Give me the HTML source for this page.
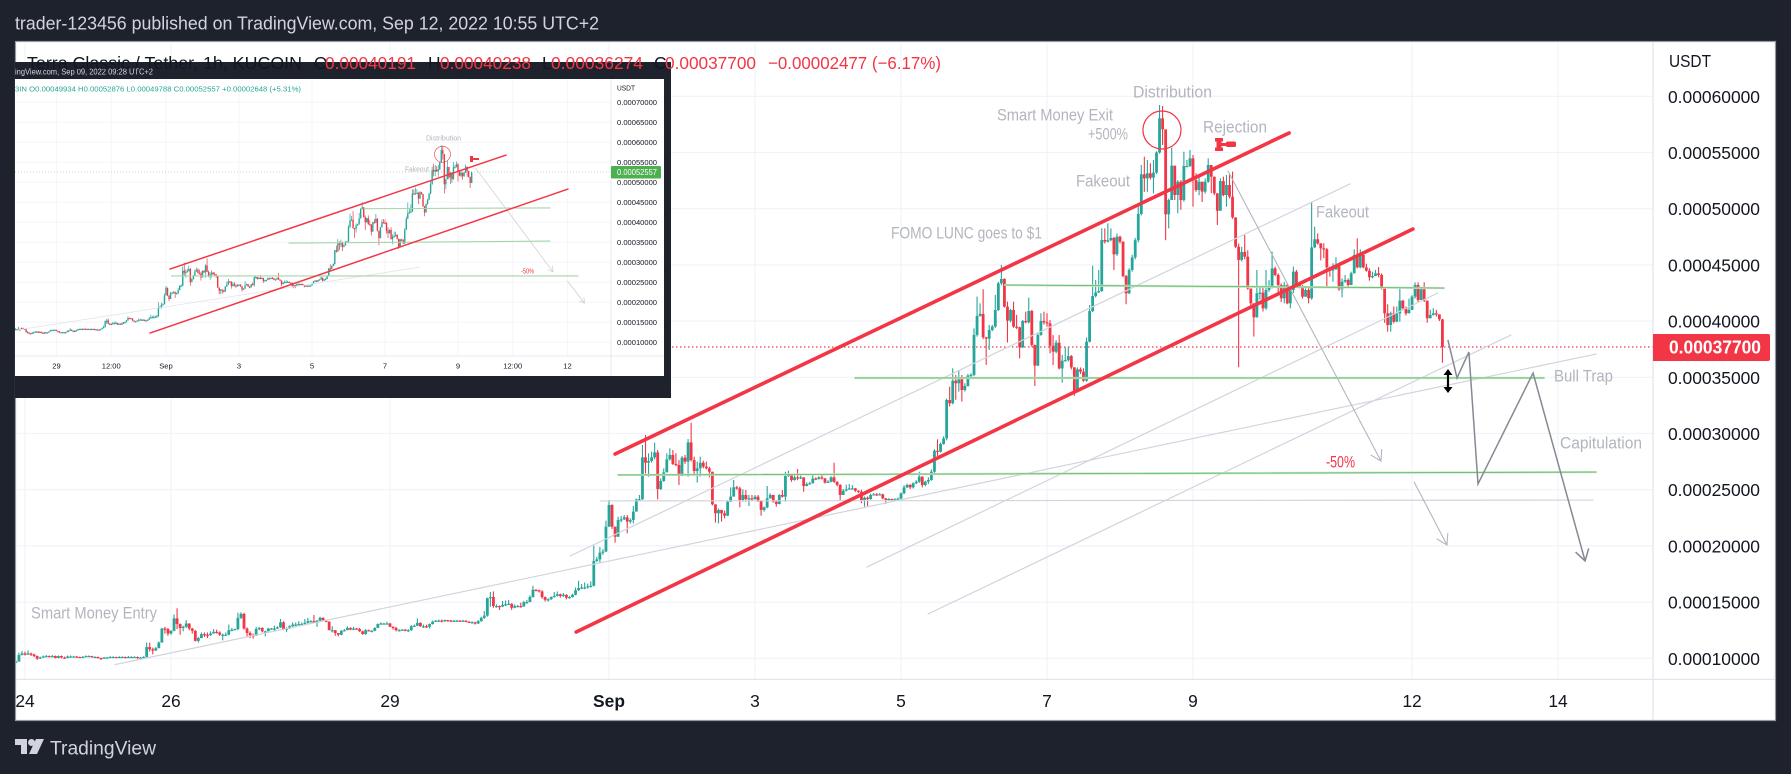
<!DOCTYPE html>
<html lang="en">
<head>
<meta charset="utf-8">
<title>LUNC / USDT chart</title>
<style>
html,body{margin:0;padding:0;background:#1e222d;width:1791px;height:774px;overflow:hidden}
svg{display:block;font-family:"Liberation Sans",sans-serif}
text{dominant-baseline:central}
.anno{fill:#b2b5be;font-size:17px}
.ax{fill:#131722;font-size:17.4px}
.lg{fill:#f23645;font-size:17.4px}
.ia{fill:#131722;font-size:7.6px}
.il{fill:#26a69a;font-size:7.6px}
</style>
</head>
<body>
<svg id="chart" xmlns="http://www.w3.org/2000/svg" width="1791" height="774" viewBox="0 0 1791 774">
  <defs>
    <clipPath id="mainClip"><rect x="16" y="42" width="1637" height="637"/></clipPath>
    <clipPath id="insetClip"><rect x="15" y="79" width="596" height="277"/></clipPath>
  </defs>
  <rect width="1791" height="774" fill="#1e222d"/>
  <text x="15" y="23" font-size="18.5" fill="#d1d4dc" textLength="584" lengthAdjust="spacingAndGlyphs">trader-123456 published on TradingView.com, Sep 12, 2022 10:55 UTC+2</text>
  <rect x="15.5" y="41.5" width="1760" height="679" fill="#ffffff" stroke="#9598a1" stroke-width="1.2"/>

  <g id="mainGrid"></g>
  <g id="mainPlot" clip-path="url(#mainClip)">
    <line x1="16" x2="1653" y1="347" y2="347" stroke="#f23645" stroke-width="1.2" stroke-dasharray="1.5 2.5"/>
    <g id="mainCandles"></g>
    <g id="mainDrawings"></g>
    <g fill="#f23645">
      <rect x="1215" y="138" width="8" height="3.5"/><rect x="1216.5" y="140" width="5" height="10"/><rect x="1215" y="147.5" width="8" height="3.5"/>
      <rect x="1221" y="143" width="6" height="3"/><rect x="1226" y="141.5" width="10" height="5.5" rx="1.5"/>
    </g>
    <g stroke="#000" stroke-width="2.2" fill="#000">
      <line x1="1448" x2="1448" y1="372" y2="390"/>
      <polygon points="1448,369 1443.5,375 1452.5,375" stroke="none"/>
      <polygon points="1448,393 1443.5,387 1452.5,387" stroke="none"/>
    </g>
  </g>

  <text class="anno" x="1133" y="92" textLength="79" lengthAdjust="spacingAndGlyphs">Distribution</text>
  <text class="anno" x="997" y="115" textLength="116" lengthAdjust="spacingAndGlyphs">Smart Money Exit</text>
  <text class="anno" x="1088" y="134" textLength="40" lengthAdjust="spacingAndGlyphs">+500%</text>
  <text class="anno" x="1203" y="127" textLength="64" lengthAdjust="spacingAndGlyphs">Rejection</text>
  <text class="anno" x="1076" y="181" textLength="54" lengthAdjust="spacingAndGlyphs">Fakeout</text>
  <text class="anno" x="1316" y="212" textLength="53" lengthAdjust="spacingAndGlyphs">Fakeout</text>
  <text class="anno" x="891" y="233" textLength="151" lengthAdjust="spacingAndGlyphs">FOMO LUNC goes to $1</text>
  <text class="anno" x="1554" y="376" textLength="59" lengthAdjust="spacingAndGlyphs">Bull Trap</text>
  <text class="anno" x="1560" y="443" textLength="82" lengthAdjust="spacingAndGlyphs">Capitulation</text>
  <text class="anno" x="1326" y="462" textLength="29" lengthAdjust="spacingAndGlyphs" style="fill:#f23645">-50%</text>
  <text class="anno" x="31" y="613" textLength="126" lengthAdjust="spacingAndGlyphs">Smart Money Entry</text>

  <g id="mainAxes"></g>
  <text class="ax" x="1669" y="61" textLength="42" lengthAdjust="spacingAndGlyphs">USDT</text>
  <path d="M1653 334H1768a2 2 0 0 1 2 2V359a2 2 0 0 1-2 2H1653Z" fill="#f23645"/>
  <text x="1669" y="347.5" font-size="18" font-weight="bold" fill="#ffffff" textLength="92" lengthAdjust="spacingAndGlyphs">0.00037700</text>

  <g id="inset">
    <rect x="15" y="62" width="656" height="336" fill="#1e222d"/>
    <rect x="15" y="79" width="649" height="297" fill="#ffffff"/>
    <text x="15" y="72" font-size="8" fill="#d1d4dc" textLength="138" lengthAdjust="spacingAndGlyphs">ingView.com, Sep 09, 2022 09:28 UTC+2</text>
    <g id="insetGrid"></g>
    <g clip-path="url(#insetClip)">
      <line x1="15" x2="611" y1="172" y2="172" stroke="#a5d6a7" stroke-width="0.8" stroke-dasharray="1 2"/>
      <g id="insetCandles"></g>
      <g id="insetDrawings"></g>
      <rect x="470" y="156" width="3" height="6" fill="#f23645"/>
      <rect x="473" y="158" width="6" height="2" fill="#f23645"/>
    </g>
    <text x="426" y="138" font-size="7.5" fill="#b2b5be" textLength="35" lengthAdjust="spacingAndGlyphs">Distribution</text>
    <text x="405" y="169" font-size="7.5" fill="#b2b5be" textLength="24" lengthAdjust="spacingAndGlyphs">Fakeout</text>
    <text x="521" y="272" font-size="7" fill="#f23645" textLength="13" lengthAdjust="spacingAndGlyphs">-50%</text>
    <text class="il" x="15" y="89" textLength="286" lengthAdjust="spacingAndGlyphs">3IN  O0.00049934  H0.00052876  L0.00049788  C0.00052557  +0.00002648 (+5.31%)</text>
    <g id="insetAxes"></g>
    <text class="ia" x="617" y="88" textLength="18" lengthAdjust="spacingAndGlyphs">USDT</text>
    <rect x="611" y="166" width="50" height="12.5" rx="1" fill="#4caf50"/>
    <text x="617" y="172.5" font-size="8" fill="#ffffff" textLength="40" lengthAdjust="spacingAndGlyphs">0.00052557</text>
  </g>

  <g>
    <text x="27" y="63" font-size="17.4" fill="#131722" textLength="275" lengthAdjust="spacingAndGlyphs">Terra Classic / Tether, 1h, KUCOIN</text>
    <text x="314" y="63" font-size="17.4" fill="#131722">O</text>
    <text class="lg" x="325" y="63" textLength="91" lengthAdjust="spacingAndGlyphs">0.00040191</text>
    <text x="428" y="63" font-size="17.4" fill="#131722">H</text>
    <text class="lg" x="440" y="63" textLength="91" lengthAdjust="spacingAndGlyphs">0.00040238</text>
    <text x="542" y="63" font-size="17.4" fill="#131722">L</text>
    <text class="lg" x="551" y="63" textLength="92" lengthAdjust="spacingAndGlyphs">0.00036274</text>
    <text x="654" y="63" font-size="17.4" fill="#131722">C</text>
    <text class="lg" x="665" y="63" textLength="91" lengthAdjust="spacingAndGlyphs">0.00037700</text>
    <text class="lg" x="768" y="63" textLength="173" lengthAdjust="spacingAndGlyphs">−0.00002477 (−6.17%)</text>
  </g>

  <g>
    <path d="M15 739H27V754H21V745H15Z" fill="#d1d4dc"/>
    <circle cx="31.5" cy="742.5" r="3.5" fill="#d1d4dc"/>
    <path d="M36 739H44L37 754H29Z" fill="#d1d4dc"/>
    <text x="50" y="749" font-size="19" fill="#d1d4dc" textLength="106" lengthAdjust="spacingAndGlyphs">TradingView</text>
  </g>
</svg>

<script>
// Hourly candles from Aug 24 onward; prices are in units of 0.00001 USDT. Open = previous close.
const firstOpen = 9.7;
const closes = [
9.7,10.3,10.43,10.38,10.43,10.34,10.2,9.98,10.07,10.16,
10.2,10.16,10.2,10.03,10.2,10.07,10.03,10.16,10.16,10.16,
10.12,10.07,10.12,10.2,10.2,10.12,10.12,10.03,9.98,10.07,
10.07,10.12,10.12,10.07,10.12,10.12,10.07,10.12,10.12,10.12,
10.03,10.07,10.12,11.0,10.8,10.7,10.9,11.4,12.65,12.6,
12.2,12.45,13.55,13.05,12.7,12.8,13.1,12.65,12.45,11.55,
11.8,12.15,12.1,12.05,12.2,12.35,12.3,12.1,12.1,12.1,
12.5,12.55,12.6,13.6,13.95,12.65,12.25,12.05,12.0,12.6,
12.7,12.4,12.4,12.65,12.65,12.65,12.75,13.2,12.6,12.65,
12.85,13.0,13.0,13.05,13.05,13.15,13.3,13.3,13.15,13.35,
13.6,13.4,13.25,12.5,12.5,12.25,12.1,12.45,12.5,12.7,
12.55,12.65,12.6,12.4,12.15,12.5,12.45,12.45,12.7,13.05,
13.1,13.1,13.1,12.8,12.7,12.5,12.5,12.55,12.5,12.5,
12.85,12.9,13.15,12.85,12.85,12.8,13.05,13.25,13.35,13.35,
13.3,13.4,13.35,13.3,13.35,13.35,13.3,13.35,13.25,13.2,
13.2,13.1,13.3,13.6,13.8,15.35,15.45,14.65,14.65,14.6,
14.75,14.8,14.85,14.5,14.65,14.65,14.6,15.0,15.0,15.45,
16.1,16.05,15.95,15.45,15.2,15.25,15.45,15.55,15.7,15.55,
15.65,15.4,15.45,15.65,16.05,16.25,16.3,16.3,16.4,16.45,
18.66,18.8,19.4,19.5,21.71,23.64,21.71,20.82,22.3,22.36,
22.54,22.16,22.3,23.05,24.14,24.14,27.88,27.4,27.55,27.88,
28.32,25.06,25.77,26.54,27.7,28.09,27.29,27.2,26.22,27.85,
27.5,29.21,27.64,26.66,26.9,27.4,27.05,26.9,26.6,23.7,
22.9,23.2,22.9,22.69,23.93,24.38,25.21,25.12,24.08,24.53,
24.17,24.23,24.17,24.38,23.99,23.2,23.43,24.23,24.53,23.93,
23.73,24.53,24.38,26.22,26.31,25.86,26.1,26.0,26.1,25.33,
25.5,25.57,26.0,25.95,26.1,26.0,25.63,25.71,26.1,25.71,
25.42,24.53,24.91,25.03,25.12,25.12,24.91,24.82,24.08,24.29,
24.17,24.53,24.59,24.56,24.59,24.23,24.08,24.17,24.08,24.14,
24.2,24.68,25.21,25.42,25.21,25.57,25.71,26.16,25.42,25.71,
25.86,26.6,28.47,28.38,29.07,29.57,32.98,32.69,34.7,34.47,
34.82,33.87,34.23,35.15,35.21,38.77,40.46,40.64,38.56,38.44,
39.21,39.51,40.99,43.36,43.75,41.29,40.04,40.99,39.51,39.45,
37.67,40.01,39.89,40.9,37.88,36.04,38.77,40.01,39.89,39.8,
37.81,37.28,38.08,35.79,36.47,36.53,36.89,35.88,33.78,35.7,
35.5,34.7,38.17,40.89,42.23,42.55,42.67,47.21,47.07,47.2,
47.4,45.94,47.51,47.07,44.01,42.47,44.55,45.67,47.2,49.53,
53.06,52.7,53.15,52.76,53.21,55.0,58.04,57.06,49.5,50.77,
53.83,51.22,52.4,50.77,53.8,53.8,54.48,52.55,51.66,52.4,
51.52,52.4,53.89,52.85,51.37,49.82,52.46,51.22,52.11,51.07,
49.23,46.62,45.44,46.15,45.73,42.9,41.58,40.34,42.47,42.53,
41.14,42.77,43.0,44.69,44.1,43.21,42.03,43.21,41.58,42.77,
44.4,43.21,43.06,42.17,42.77,42.03,46.56,47.28,46.92,46.48,
46.39,44.78,44.49,44.61,45.0,42.83,43.51,43.66,43.21,44.25,
45.88,44.78,45.88,44.78,44.49,43.9,44.01,44.25,44.1,42.92,
40.69,39.65,40.69,39.95,40.69,41.82,41.14,40.69,41.0,42.18,
43.21,41.88,42.83,41.82,40.25,40.54,40.69,40.6,40.16,37.7
];
const highs = [
9.8,10.5,10.65,10.6,10.7,10.5,10.4,10.25,10.15,10.25,
10.3,10.25,10.3,10.25,10.25,10.25,10.15,10.25,10.25,10.22,
10.2,10.15,10.2,10.26,10.26,10.22,10.18,10.15,10.05,10.12,
10.12,10.18,10.18,10.13,10.18,10.18,10.15,10.2,10.18,10.18,
10.15,10.12,10.18,11.4,11.4,10.95,11.0,11.5,12.7,12.8,
12.7,12.5,13.9,14.45,13.1,12.9,13.4,13.1,12.7,12.5,
11.9,12.3,12.3,12.3,12.4,12.6,12.55,12.4,12.2,12.3,
13.0,12.7,12.65,14.05,14.1,14.05,12.75,12.4,12.2,12.8,
12.8,12.75,12.45,12.7,12.7,12.9,12.85,13.5,13.3,12.75,
12.95,13.2,13.2,13.3,13.2,13.5,13.6,13.4,13.85,13.4,
13.7,13.65,13.45,13.3,12.85,12.5,12.2,12.5,12.6,12.85,
12.75,12.8,12.7,12.7,12.45,12.6,12.55,12.5,12.75,13.1,
13.2,13.15,13.25,13.15,12.85,12.8,12.6,12.6,12.6,12.6,
12.95,13.0,13.55,13.2,13.0,13.0,13.1,13.35,13.4,13.45,
13.45,13.45,13.42,13.42,13.4,13.42,13.4,13.42,13.38,13.3,
13.3,13.25,13.4,13.7,14.2,15.4,15.9,15.95,14.8,14.7,
15.1,15.15,15.2,14.9,14.8,14.75,14.95,15.1,15.2,15.6,
16.45,16.15,16.1,16.05,15.5,15.35,15.5,15.9,15.95,15.75,
15.8,15.7,15.55,15.75,16.3,16.9,16.6,16.75,16.65,16.85,
20.02,19.04,19.9,19.72,22.25,24.08,23.7,21.71,22.6,22.66,
22.75,22.75,22.45,23.55,24.2,24.53,28.98,29.87,28.24,28.38,
29.18,28.53,26.0,26.9,28.24,28.68,28.53,28.24,27.64,28.0,
28.09,29.51,30.96,27.94,27.5,27.94,27.58,27.5,27.05,26.6,
23.7,23.34,23.2,23.14,24.08,25.21,25.86,25.33,25.27,25.03,
24.97,24.53,24.53,24.53,24.53,24.08,23.5,25.33,24.68,24.55,
24.08,24.6,24.97,26.6,26.69,26.31,26.25,26.84,26.25,26.1,
25.65,25.7,26.3,26.1,26.2,26.31,26.05,25.85,26.2,27.4,
25.75,25.5,25.05,25.45,25.5,25.4,25.15,24.95,25.0,24.4,
24.4,24.65,24.7,24.7,24.7,24.65,24.25,24.25,24.2,24.25,
24.3,24.75,25.4,25.55,25.5,25.65,25.85,26.6,26.2,25.8,
26.1,26.8,28.6,29.48,29.2,29.75,33.1,34.17,35.8,35.2,
35.65,35.21,34.47,35.3,35.36,39.36,42.18,41.58,42.83,38.6,
39.66,39.66,42.33,43.5,45.0,43.81,41.73,41.1,41.73,40.55,
39.51,40.1,40.84,42.09,41.0,37.9,38.9,40.7,40.84,40.7,
40.09,38.76,38.31,38.76,36.98,37.66,37.66,36.98,35.9,35.88,
35.88,35.8,38.55,41.43,44.93,43.65,44.54,48.25,48.25,48.7,
48.25,47.5,47.8,47.6,47.1,44.1,44.7,45.9,47.4,50.2,
53.89,54.63,54.33,54.04,54.33,55.1,59.23,59.14,57.0,50.9,
55.43,53.44,52.55,52.55,55.07,54.33,55.22,54.78,53.15,52.85,
52.4,52.7,54.48,53.89,52.85,51.37,52.7,52.85,53.0,53.15,
53.3,49.23,46.9,46.6,47.66,46.3,42.9,41.58,44.55,43.05,
43.05,44.55,43.65,46.18,44.85,44.25,43.35,43.5,43.35,42.9,
44.85,44.55,43.3,43.2,42.9,43.05,50.63,48.4,47.8,46.92,
46.92,46.5,44.85,45.15,45.67,45.0,43.8,44.1,43.8,44.4,
46.39,47.37,46.39,45.88,45.1,44.7,44.4,44.55,44.8,44.25,
42.95,41.5,40.85,41.3,41.3,42.92,41.9,41.3,42.0,42.3,
43.45,43.45,43.05,43.45,41.82,41.0,41.15,41.0,40.3,40.2
];
const lows = [
9.6,9.75,10.25,10.25,10.3,10.2,10.1,9.85,9.95,10.05,
10.1,10.1,10.1,10.0,10.0,10.0,9.95,10.0,10.1,10.1,
10.05,10.02,10.05,10.1,10.12,10.05,10.05,9.98,9.85,9.95,
10.0,10.05,10.05,10.02,10.05,10.05,10.0,10.05,10.05,10.05,
9.95,9.98,10.02,10.0,10.6,10.35,10.65,10.9,11.4,12.2,
12.0,12.1,12.4,12.6,12.1,12.4,12.7,12.5,12.2,11.5,
11.4,11.8,11.9,11.8,12.0,12.2,12.2,12.0,11.6,12.0,
12.05,12.4,12.5,12.5,13.5,12.55,11.95,11.8,11.75,12.0,
12.5,12.3,11.95,12.4,12.55,12.4,12.6,12.7,12.5,12.35,
12.6,12.8,12.8,12.95,12.9,13.0,13.1,13.2,13.1,12.8,
13.3,13.3,13.2,12.5,12.3,12.0,11.95,12.05,12.4,12.5,
12.5,12.5,12.55,12.35,12.1,12.1,12.4,12.3,12.4,12.7,
13.0,13.05,13.05,12.8,12.55,12.4,12.4,12.45,12.4,12.35,
12.45,12.8,12.85,12.8,12.7,12.7,12.65,13.0,13.25,13.3,
13.2,13.25,13.25,13.25,13.25,13.25,13.25,13.25,13.2,13.15,
13.1,13.0,13.05,13.25,13.5,13.7,14.6,14.5,14.5,14.3,
14.55,14.65,14.75,14.3,14.45,14.55,14.5,14.6,14.85,15.0,
15.4,15.95,15.85,15.3,15.05,15.05,15.2,15.4,15.5,15.4,
15.45,15.25,15.3,15.4,15.6,16.0,16.15,16.15,16.2,16.3,
16.4,18.55,18.45,19.2,19.45,21.7,21.5,20.29,20.8,22.1,
22.3,21.12,22.0,22.0,23.05,24.0,24.1,26.45,26.16,27.4,
27.7,24.14,24.97,25.7,26.6,27.6,27.2,27.1,25.42,26.2,
27.3,26.16,27.5,26.3,25.63,26.16,26.9,26.8,26.1,23.6,
22.07,22.0,22.16,22.45,22.65,23.9,24.4,25.0,23.43,23.93,
23.93,23.55,24.0,24.1,23.9,22.69,23.05,23.34,24.2,23.85,
23.49,23.7,24.3,23.93,26.15,25.7,25.8,25.85,25.95,24.82,
25.3,25.45,25.55,25.85,25.9,25.9,25.55,25.6,25.65,25.6,
25.3,24.08,24.53,24.85,25.0,25.0,24.8,24.7,23.8,23.49,
23.55,24.1,24.5,24.45,24.5,24.15,23.75,24.0,24.0,24.05,
24.05,24.15,24.6,25.15,25.05,25.1,25.5,25.6,25.2,25.3,
25.5,25.8,26.5,28.0,28.3,29.0,29.4,32.4,32.6,33.0,
33.73,32.84,33.73,34.17,35.0,35.1,38.62,40.4,38.4,36.1,
37.43,39.1,39.4,40.9,43.2,41.2,38.09,39.9,39.4,39.3,
36.69,37.6,39.8,39.8,37.7,34.23,36.0,38.7,39.7,39.5,
37.13,36.09,37.13,35.7,34.52,36.4,36.4,35.7,33.36,33.86,
35.3,34.6,34.6,38.1,40.8,42.1,42.5,42.6,46.9,47.0,
47.1,44.55,45.8,46.9,43.9,41.5,42.4,44.4,45.5,47.0,
49.4,51.5,51.5,52.6,51.37,53.1,54.9,55.67,47.2,48.25,
50.8,50.77,49.59,49.9,50.63,53.7,53.7,50.18,51.5,51.2,
50.6,51.35,52.3,51.37,51.2,48.55,49.82,51.1,50.18,50.9,
49.1,46.5,35.89,45.3,45.5,42.8,41.4,38.62,40.3,41.9,
40.85,41.0,42.6,42.9,44.0,42.5,41.7,41.58,41.5,41.14,
42.5,43.1,42.9,42.0,42.17,41.58,41.9,46.5,46.8,45.4,
45.6,43.05,43.95,43.5,44.55,42.7,42.12,43.4,42.9,43.2,
44.25,44.7,44.7,44.7,44.4,43.6,43.8,44.0,43.9,42.8,
39.85,39.06,39.06,39.8,39.9,39.95,41.0,40.5,40.7,41.0,
42.0,41.7,41.88,41.7,39.85,40.25,40.5,40.4,40.0,36.3
];
// Last hour shown in the older inset snapshot.
const insetLastHour = 396;

const priceTicks = [60,55,50,45,40,35,30,25,20,15,10];
const insetPriceTicks = [70,65,60,55,50,45,40,35,30,25,20,15,10];
// Time ticks: label and days after Sep 1.
const timeLabels = ['24','26','29','Sep','3','5','7','9','12','14'];
const timeDays = [-8,-6,-3,0,2,4,6,8,11,13];
const insetTimeLabels = ['29','12:00','Sep','3','5','7','9','12:00','12'];
const insetTimeDays = [-3,-1.5,0,2,4,6,8,9.5,11];

// Drawings anchored as [hour, price, hour, price].
const channelLines = [[197,28.18,418.6,56.74],[184.2,12.34,459.3,48.19]];
const levelLines = [[325.2,43.21,469.5,42.94],[275.9,34.94,502.4,34.94],[198,26.31,519.5,26.57]];
const supportLines = [[192.1,24.0,518.5,24.08],[32.6,9.44,519.5,37.07],[182.2,19.1,438.6,52.2],[279.8,18.12,467.5,42.5],[299.9,13.94,491.5,38.76]];
const targetArrows = [[398.5,53.35,448.8,27.55],[459.7,25.69,470.5,20.08]];
const scenarioHours = [470.8,473.8,477.7,480.7,498.8,515.9];
const scenarioPrices = [38.32,34.94,37.25,25.51,35.38,18.66];
const peakCircle = [376.8,57.0];

const insetChannelLines = [[197.6,28.3,418.6,56.8],[184.5,12.3,459.3,48.3]];
const insetLevelLines = [[198.6,26.6,466,26.6],[275.9,34.8,447.5,35.3],[325.2,43.4,447.5,43.6]];
const insetSupportLines = [[97.7,13.1,362,28.8]];
const insetTargetArrows = [[398.5,53.6,449.5,27.6],[459,25.3,470.2,19.8]];

const NS = 'http://www.w3.org/2000/svg';
const HOUR_PX = 3.0417;
const SEP1_HOUR = 195;
const xMain = h => 15.87 + h * HOUR_PX;
const yMain = p => 658.3 - (p - 10) * 11.24;
const xInset = h => 166 + (xMain(h) - 609) / 2;
const yInset = p => 342.3 - (p - 10) * 4;
const hourOfDay = d => SEP1_HOUR + d * 24;

function make(tag, parent, props) {
  const n = document.createElementNS(NS, tag);
  for (const k in props) n.setAttribute(k, props[k]);
  parent.appendChild(n);
  return n;
}

function drawCandles(parent, xf, yf, last, bodyW, wickW) {
  for (let i = 0; i <= last; i++) {
    const o = i === 0 ? firstOpen : closes[i - 1];
    const c = closes[i];
    const col = c >= o ? '#26a69a' : '#f23645';
    const x = xf(i);
    const wick = make('line', parent, {x1: x, x2: x, y1: yf(highs[i]), y2: yf(lows[i]), stroke: col, 'stroke-width': wickW});
    
    
    const top = Math.min(yf(o), yf(c));
    const h = Math.max(1.2, Math.abs(yf(o) - yf(c)));
    const body = make('rect', parent, {x: x - bodyW / 2, y: top, width: bodyW, height: h, fill: col});
    
    
  }
}

function drawSegments(parent, segs, xf, yf, style, name) {
  segs.forEach(s => {
    const l = make('line', parent, Object.assign({x1: xf(s[0]), y1: yf(s[1]), x2: xf(s[2]), y2: yf(s[3]), 'stroke-linecap': 'round'}, style));
    
    
  });
}

function drawArrowHead(parent, x1, y1, x2, y2, len, style) {
  const a = Math.atan2(y2 - y1, x2 - x1);
  const p1 = [x2 - len * Math.cos(a - 0.55), y2 - len * Math.sin(a - 0.55)];
  const p2 = [x2 - len * Math.cos(a + 0.55), y2 - len * Math.sin(a + 0.55)];
  const h = make('path', parent, Object.assign({d: `M${p1[0]} ${p1[1]}L${x2} ${y2}L${p2[0]} ${p2[1]}`, fill: 'none'}, style));
  
  
}

/* ---------- main grid + axes ---------- */
const mainGrid = document.getElementById('mainGrid');
priceTicks.forEach(p => {
  const l = make('line', mainGrid, {x1: 16, x2: 1653, y1: yMain(p), y2: yMain(p), stroke: '#f0f3fa', 'stroke-width': 1.2});
  
  
});
timeDays.forEach(d => {
  const x = xMain(hourOfDay(d));
  const l = make('line', mainGrid, {x1: x, x2: x, y1: 42, y2: 679, stroke: '#f0f3fa', 'stroke-width': 1.2});
  
  
});
const mainAxes = document.getElementById('mainAxes');
const mainAxisY = make('line', mainAxes, {x1: 1653, x2: 1653, y1: 42, y2: 720, stroke: '#e0e3eb', 'stroke-width': 1.2});


const mainAxisX = make('line', mainAxes, {x1: 16, x2: 1775, y1: 679.3, y2: 679.3, stroke: '#e0e3eb', 'stroke-width': 1.2});


priceTicks.forEach(p => {
  const t = make('text', mainAxes, {x: 1668, y: yMain(p) + 0.5, 'class': 'ax', textLength: 92, lengthAdjust: 'spacingAndGlyphs'});
  
  
  t.textContent = (p / 100000).toFixed(8);
});
timeLabels.forEach((s, k) => {
  const t = make('text', mainAxes, {x: xMain(hourOfDay(timeDays[k])), y: 701, 'class': 'ax', 'text-anchor': 'middle'});
  
  
  if (s === 'Sep') t.setAttribute('font-weight', 'bold');
  t.textContent = s;
});

/* ---------- main candles + drawings ---------- */
drawCandles(document.getElementById('mainCandles'), xMain, yMain, closes.length - 1, 2.8, 1.1);
const mainDraw = document.getElementById('mainDrawings');
drawSegments(mainDraw, supportLines, xMain, yMain, {stroke: '#d1d4dc', 'stroke-width': 1.2}, 'support-trendline');
drawSegments(mainDraw, levelLines, xMain, yMain, {stroke: '#c8e6c9', 'stroke-width': 2.2}, 'level-line-halo');
drawSegments(mainDraw, levelLines, xMain, yMain, {stroke: '#66bb6a', 'stroke-width': 0.9}, 'level-line');
drawSegments(mainDraw, targetArrows, xMain, yMain, {stroke: '#b2b5be', 'stroke-width': 1.1}, 'target-arrow');
targetArrows.forEach(s => {
  drawArrowHead(mainDraw, xMain(s[0]), yMain(s[1]), xMain(s[2]), yMain(s[3]), 12, {stroke: '#b2b5be', 'stroke-width': 1.1});
});
const scenario = make('polyline', mainDraw, {
  points: scenarioHours.map((h, k) => xMain(h) + ',' + yMain(scenarioPrices[k])).join(' '),
  fill: 'none', stroke: '#868993', 'stroke-width': 1.5
});


const sn = scenarioHours.length;
drawArrowHead(mainDraw, xMain(scenarioHours[sn - 2]), yMain(scenarioPrices[sn - 2]), xMain(scenarioHours[sn - 1]), yMain(scenarioPrices[sn - 1]), 13, {stroke: '#868993', 'stroke-width': 1.5});
drawSegments(mainDraw, channelLines, xMain, yMain, {stroke: '#f23645', 'stroke-width': 3.6}, 'channel-line');
const circle = make('circle', mainDraw, {cx: xMain(peakCircle[0]), cy: yMain(peakCircle[1]), r: 19, fill: 'none', stroke: '#f23645', 'stroke-width': 1.2});



/* ---------- inset ---------- */
const insetGrid = document.getElementById('insetGrid');
insetPriceTicks.forEach(p => {
  const l = make('line', insetGrid, {x1: 15, x2: 611, y1: yInset(p), y2: yInset(p), stroke: '#f5f6fa', 'stroke-width': 1});
  
  
});
insetTimeDays.forEach(d => {
  const x = xInset(hourOfDay(d));
  const l = make('line', insetGrid, {x1: x, x2: x, y1: 79, y2: 356, stroke: '#f5f6fa', 'stroke-width': 1});
  
  
});
const insetCandleGroup = document.getElementById('insetCandles');
drawCandles(insetCandleGroup, xInset, yInset, insetLastHour, 1.4, 0.7);
const insetDraw = document.getElementById('insetDrawings');
drawSegments(insetDraw, insetSupportLines, xInset, yInset, {stroke: '#e0e3eb', 'stroke-width': 0.8}, 'inset-support-trendline');
drawSegments(insetDraw, insetLevelLines, xInset, yInset, {stroke: '#a5d6a7', 'stroke-width': 1.1}, 'inset-level-line');
drawSegments(insetDraw, insetTargetArrows, xInset, yInset, {stroke: '#c9cbd3', 'stroke-width': 0.7}, 'inset-target-arrow');
insetTargetArrows.forEach(s => {
  drawArrowHead(insetDraw, xInset(s[0]), yInset(s[1]), xInset(s[2]), yInset(s[3]), 6, {stroke: '#c9cbd3', 'stroke-width': 0.7});
});
drawSegments(insetDraw, insetChannelLines, xInset, yInset, {stroke: '#f23645', 'stroke-width': 1.5}, 'inset-channel-line');
const insetCircle = make('circle', insetDraw, {cx: xInset(peakCircle[0]), cy: yInset(peakCircle[1]), r: 8, fill: 'none', stroke: '#f23645', 'stroke-width': 0.6});


const insetAxes = document.getElementById('insetAxes');
const insetAxisY = make('line', insetAxes, {x1: 611, x2: 611, y1: 79, y2: 376, stroke: '#e0e3eb', 'stroke-width': 0.8});


const insetAxisX = make('line', insetAxes, {x1: 15, x2: 664, y1: 356, y2: 356, stroke: '#e0e3eb', 'stroke-width': 0.8});


insetPriceTicks.forEach(p => {
  const t = make('text', insetAxes, {x: 617, y: yInset(p), 'class': 'ia', textLength: 40, lengthAdjust: 'spacingAndGlyphs'});
  
  
  t.textContent = (p / 100000).toFixed(8);
});
insetTimeLabels.forEach((s, k) => {
  const t = make('text', insetAxes, {x: xInset(hourOfDay(insetTimeDays[k])), y: 366, 'class': 'ia', 'text-anchor': 'middle'});
  
  
  t.textContent = s;
});
</script>
</body>
</html>
